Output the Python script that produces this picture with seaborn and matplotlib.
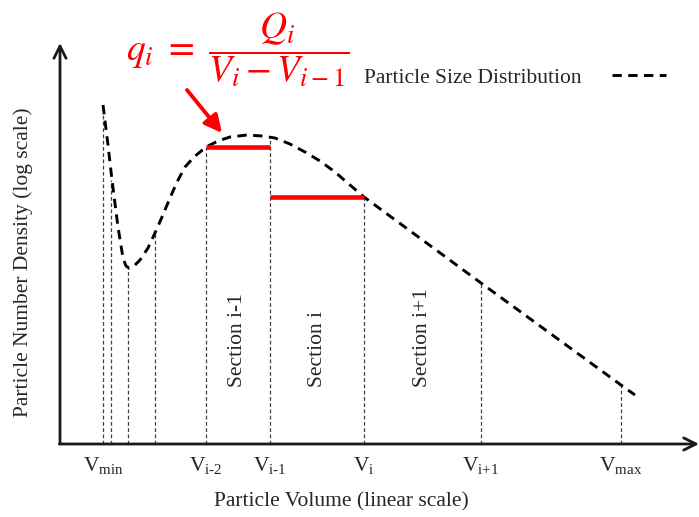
import matplotlib
matplotlib.use("Agg")
import matplotlib.pyplot as plt
import seaborn as sns
import pandas as pd

# Section boundaries along the volume axis and the density at each boundary
boundary_x = [43, 51, 68, 95, 146, 210, 304, 421, 561]
boundary_y = [339, 264, 176, 211, 297, 306, 247, 161, 59]

# Labelled boundaries (index into boundary_x) and their tick labels
tick_index = [0, 4, 5, 6, 7, 8]
tick_labels = [r"$\mathrm{V}_{\mathrm{min}}$", r"$\mathrm{V}_{\mathrm{i\text{-}2}}$",
               r"$\mathrm{V}_{\mathrm{i\text{-}1}}$", r"$\mathrm{V}_{\mathrm{i}}$",
               r"$\mathrm{V}_{\mathrm{i{+}1}}$", r"$\mathrm{V}_{\mathrm{max}}$"]

# Particle size distribution curve
curve_x = [43, 48, 52, 58, 63, 66, 69, 74, 80, 88, 95, 102, 110, 117, 125, 134,
           146, 158, 170, 187, 202, 215, 230, 245, 260, 275, 290, 304, 421, 561, 575]
curve_y = [339, 299, 264, 217, 186, 178, 176, 178, 184, 196, 211, 227, 246, 262, 277, 287,
           297, 303, 307, 309, 308, 306, 300, 292, 283, 272, 259, 247, 161, 59, 49]

# Section-averaged densities (red steps)
step_x0 = [146, 210]
step_x1 = [210, 304]
step_y = [297, 247]

# Section names, placed between consecutive labelled boundaries
section_names = ["Section i-1", "Section i", "Section i+1"]
section_bounds = [(4, 5), (5, 6), (6, 7)]

sns.set_theme(style="white")
plt.rcParams["font.family"] = ["Liberation Serif", "DejaVu Serif"]
plt.rcParams["mathtext.fontset"] = "custom"
plt.rcParams["mathtext.rm"] = "Liberation Serif"
plt.rcParams["mathtext.it"] = "Liberation Serif:italic"

FS = 15.5

fig = plt.figure(figsize=(6.99, 5.17), dpi=100)
ax = fig.add_axes([60 / 699, 73 / 517, 639 / 699, 401 / 517])
ax.set_xlim(0, 639)
ax.set_ylim(0, 401)
for s in ax.spines.values():
    s.set_visible(False)

# Vertical boundary lines up to the curve
ax.vlines(boundary_x, 0, boundary_y, colors="#404040", linewidth=0.9,
          linestyles=(0, (3, 2)), zorder=1)

# Distribution curve
df = pd.DataFrame({"x": curve_x, "y": curve_y})
sns.lineplot(data=df, x="x", y="y", sort=False, ax=ax, color="black",
             linewidth=2.1, label="Particle Size Distribution", zorder=3)
ax.lines[-1].set_dashes((3.2, 2.2))

# Section-averaged values
ax.hlines(step_y, step_x0, step_x1, colors="#ff0000", linewidth=3.3, zorder=4)

# Axes arrows
arrow_kw = dict(arrowstyle="->", color="#1a1a1a", lw=2.0, mutation_scale=22,
                shrinkA=0, shrinkB=0)
ax.annotate("", xy=(0, 1), xytext=(0, 0), xycoords="axes fraction",
            arrowprops=arrow_kw, annotation_clip=False)
ax.annotate("", xy=(1, 0), xytext=(-0.001, 0), xycoords="axes fraction",
            arrowprops=arrow_kw, annotation_clip=False)

# Ticks
ax.set_xticks([boundary_x[i] for i in tick_index])
ax.set_xticklabels(tick_labels, fontsize=FS)
ax.set_xticks([boundary_x[0], boundary_x[-1]], minor=True)
ax.tick_params(axis="x", which="major", length=0, pad=8)
ax.tick_params(axis="x", which="minor", length=9, width=2, direction="inout",
               color="#1a1a1a", bottom=True)
ax.set_yticks([])

ax.set_xlabel("Particle Volume (linear scale)", fontsize=FS)
ax.xaxis.set_label_coords(0.44, -0.12)
ax.set_ylabel("Particle Number Density (log scale)", fontsize=FS)
ax.yaxis.set_label_coords(-0.042, 0.454)

# Section names
for name, (a, b) in zip(section_names, section_bounds):
    xm = (boundary_x[a] + boundary_x[b]) / 2
    ax.text(xm, 57, name, rotation=90, ha="center", va="bottom", fontsize=FS)

# Formula and arrow pointing at the section average
ax.text(178, 394, r"$q_i\ =\ \dfrac{Q_i}{V_i - V_{i-1}}$", color="#ff0000",
        fontsize=27, ha="center", va="center", math_fontfamily="stix")
ax.annotate("", xy=(162, 311), xytext=(127, 354), xycoords="data",
            arrowprops=dict(arrowstyle="-|>", color="#ff0000", lw=2.8,
                            mutation_scale=26, shrinkA=0, shrinkB=0))

leg = ax.legend(loc="center", bbox_to_anchor=(0.712, 0.913), frameon=False,
                markerfirst=False, handlelength=2.5, handletextpad=1.4,
                fontsize=FS)

fig.savefig("out.png", dpi=100)
